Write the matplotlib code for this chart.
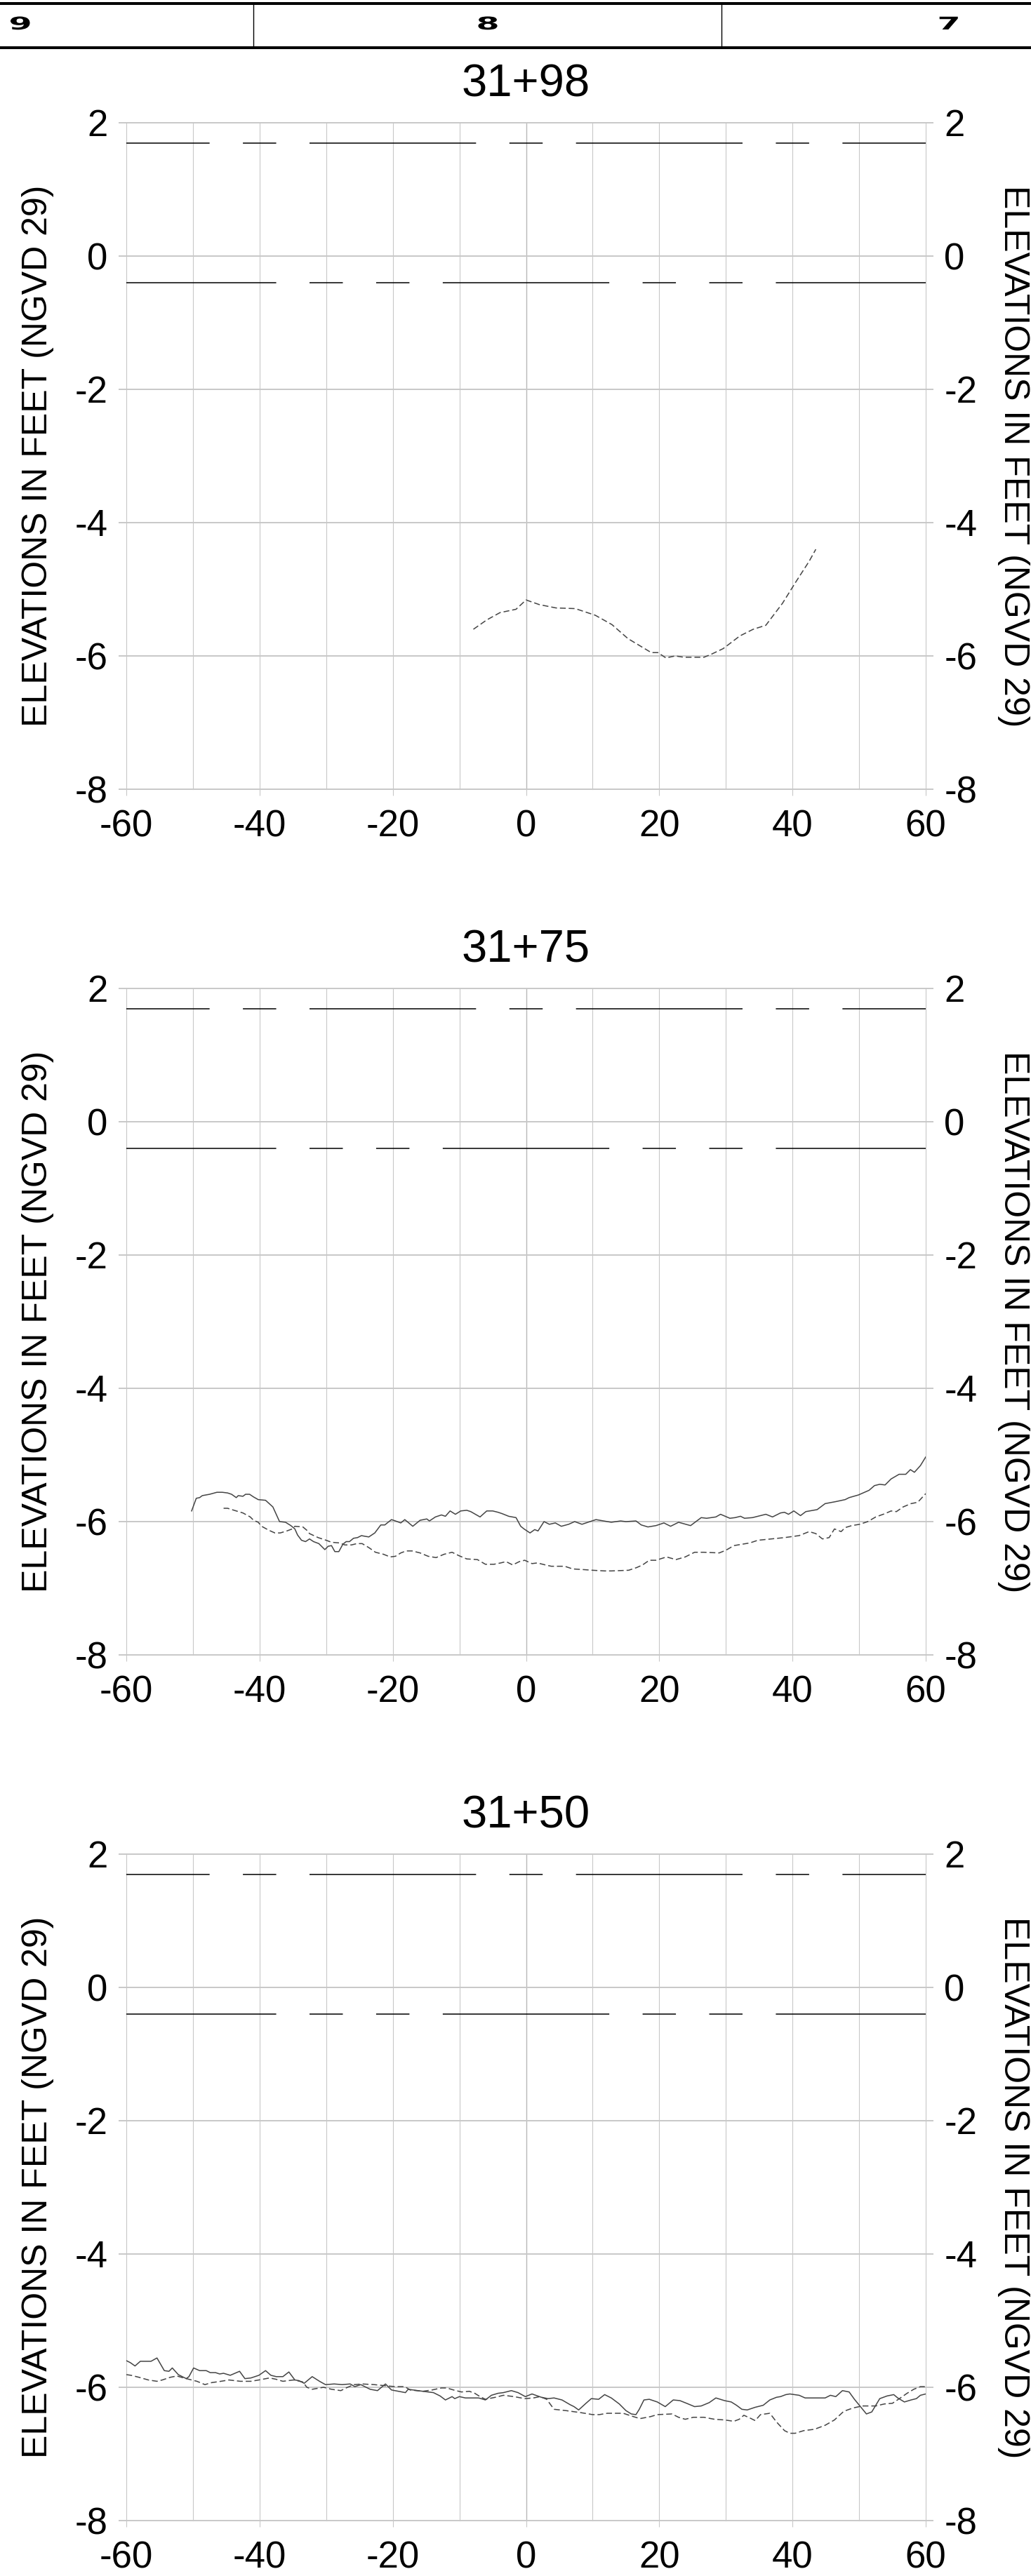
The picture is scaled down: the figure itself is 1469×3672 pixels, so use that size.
import numpy as np
import matplotlib
matplotlib.use('Agg')
import matplotlib.pyplot as plt
from matplotlib.lines import Line2D
from matplotlib.patheffects import AbstractPathEffect
from matplotlib.transforms import Affine2D

plt.rcParams['font.family'] = ['Liberation Sans', 'DejaVu Sans']
plt.rcParams['axes.unicode_minus'] = False
plt.rcParams['lines.scale_dashes'] = False

# ---- data -------------------------------------------------------------
header_labels = ['9', '8', '7']
stations = ['31+98', '31+75', '31+50']
ylabel = 'ELEVATIONS IN FEET (NGVD 29)'
x_range = [-60, 60]
y_range = [-8, 2]
x_ticks = [-60, -40, -20, 0, 20, 40, 60]
y_ticks = [-8, -6, -4, -2, 0, 2]
ref_levels = [1.7, -0.4]

# 31+98 (only the dashed survey)
p1_dash_x = [-7.9, -5.9, -3.9, -1.5, 0.0, 2.0, 4.5, 7.4, 10.4, 12.9,
             15.3, 18.8, 19.8, 21.0, 22.4, 23.7, 26.7, 27.7, 29.6, 32.1,
             34.1, 36.0, 38.5, 40.5, 42.5, 43.5]
p1_dash_y = [-5.60, -5.46, -5.35, -5.30, -5.16, -5.23, -5.28, -5.29, -5.39, -5.53,
             -5.74, -5.95, -5.95, -6.03, -6.00, -6.02, -6.02, -5.98, -5.89, -5.70,
             -5.60, -5.54, -5.21, -4.89, -4.58, -4.40]

# 31+75
p2_solid_x = [-50.2, -49.5, -49.0, -48.6, -47.5, -46.4, -45.6, -44.8, -44.2, -43.5,
              -43.2, -42.5, -42.1, -41.5, -40.9, -40.2, -39.1, -38.0, -37.0, -36.1,
              -35.3, -34.7, -34.3, -33.7, -33.1, -32.5, -31.9, -31.1, -30.2, -29.7,
              -29.2, -28.7, -28.1, -27.5, -27.0, -26.5, -25.9, -25.3, -24.7, -24.2,
              -23.6, -22.7, -21.8, -21.2, -20.2, -19.6, -18.8, -18.2, -17.0, -15.9,
              -14.9, -14.5, -13.6, -12.7, -12.1, -11.4, -10.6, -9.8, -8.9, -8.3,
              -6.9, -5.9, -5.0, -4.2, -3.6, -2.6, -1.5, -0.8, -0.3, 0.6,
              1.3, 1.8, 2.7, 3.5, 4.4, 5.3, 6.4, 7.3, 8.4, 10.5,
              12.8, 14.2, 15.0, 16.5, 17.3, 18.3, 19.5, 20.7, 21.7, 22.9,
              24.7, 26.3, 27.1, 28.5, 29.2, 30.6, 31.4, 32.2, 32.8, 34.0,
              36.0, 37.0, 38.2, 38.8, 39.4, 40.2, 41.2, 42.0, 43.7, 44.9,
              46.5, 47.9, 48.5, 49.9, 51.5, 52.3, 53.1, 53.9, 54.8, 56.0,
              57.0, 57.7, 58.3, 59.2, 60.0]
p2_solid_y = [-5.84, -5.65, -5.64, -5.61, -5.59, -5.56, -5.56, -5.57, -5.59, -5.64,
              -5.61, -5.62, -5.59, -5.59, -5.63, -5.67, -5.68, -5.78, -6.00, -6.01,
              -6.06, -6.11, -6.20, -6.28, -6.30, -6.26, -6.30, -6.33, -6.42, -6.37,
              -6.36, -6.45, -6.45, -6.34, -6.30, -6.30, -6.25, -6.24, -6.21, -6.22,
              -6.23, -6.17, -6.05, -6.05, -5.97, -5.99, -6.02, -5.97, -6.07, -5.98,
              -5.96, -5.99, -5.93, -5.90, -5.92, -5.84, -5.89, -5.84, -5.83, -5.85,
              -5.93, -5.84, -5.84, -5.86, -5.88, -5.92, -5.94, -6.07, -6.11, -6.17,
              -6.12, -6.14, -6.00, -6.04, -6.02, -6.07, -6.04, -6.00, -6.04, -5.97,
              -6.01, -5.99, -6.00, -5.99, -6.05, -6.08, -6.06, -6.02, -6.07, -6.01,
              -6.06, -5.94, -5.95, -5.93, -5.89, -5.95, -5.94, -5.92, -5.95, -5.94,
              -5.89, -5.93, -5.87, -5.86, -5.89, -5.84, -5.91, -5.85, -5.82, -5.73,
              -5.70, -5.67, -5.64, -5.60, -5.53, -5.46, -5.44, -5.45, -5.36, -5.29,
              -5.29, -5.22, -5.26, -5.16, -5.03]
p2_dash_x = [-45.4, -44.8, -43.5, -42.5, -41.4, -40.9, -40.2, -39.7, -38.6, -37.7,
             -36.9, -35.9, -35.1, -34.7, -33.5, -32.9, -32.5, -31.2, -30.0, -29.2,
             -28.0, -27.2, -26.2, -25.4, -24.6, -23.6, -22.6, -21.4, -20.4, -19.6,
             -18.8, -18.0, -17.1, -15.9, -14.7, -13.5, -12.3, -11.1, -10.1, -8.9,
             -7.3, -6.1, -4.8, -3.8, -3.0, -2.0, -1.0, -0.2, 0.9, 1.7,
             2.9, 3.8, 5.8, 7.0, 8.6, 10.0, 11.8, 12.8, 15.4, 16.6,
             17.5, 18.5, 19.5, 21.1, 22.5, 23.9, 25.3, 26.7, 29.0, 30.0,
             31.2, 33.6, 34.8, 36.8, 38.8, 41.0, 42.5, 43.5, 44.5, 45.5,
             46.3, 47.3, 47.9, 48.9, 50.1, 51.3, 52.5, 53.9, 54.8, 55.6,
             56.6, 57.8, 58.8, 60.0]
p2_dash_y = [-5.80, -5.80, -5.84, -5.87, -5.93, -5.98, -6.01, -6.07, -6.13, -6.17,
             -6.17, -6.14, -6.11, -6.07, -6.08, -6.13, -6.18, -6.24, -6.28, -6.31,
             -6.32, -6.35, -6.35, -6.33, -6.33, -6.39, -6.46, -6.49, -6.53, -6.52,
             -6.47, -6.44, -6.44, -6.47, -6.52, -6.54, -6.49, -6.46, -6.51, -6.56,
             -6.57, -6.64, -6.64, -6.62, -6.60, -6.65, -6.60, -6.58, -6.63, -6.62,
             -6.65, -6.67, -6.67, -6.71, -6.72, -6.73, -6.74, -6.74, -6.73, -6.69,
             -6.65, -6.58, -6.58, -6.53, -6.57, -6.53, -6.46, -6.46, -6.47, -6.43,
             -6.36, -6.32, -6.28, -6.26, -6.24, -6.21, -6.15, -6.18, -6.26, -6.24,
             -6.11, -6.15, -6.09, -6.06, -6.04, -6.00, -5.93, -5.88, -5.84, -5.85,
             -5.78, -5.73, -5.71, -5.58]

# 31+50
p3_solid_x = [-60.0, -59.4, -58.7, -57.9, -56.3, -55.4, -54.3, -53.6, -53.1, -52.2,
              -51.0, -50.6, -49.9, -49.0, -48.0, -47.4, -46.6, -46.0, -45.4, -44.4,
              -43.0, -42.2, -41.3, -40.1, -39.1, -38.3, -37.5, -36.5, -35.6, -34.7,
              -34.1, -33.3, -32.1, -31.0, -30.1, -28.8, -27.6, -26.4, -25.7, -24.8,
              -23.4, -22.3, -21.1, -20.2, -18.1, -17.7, -15.5, -13.9, -12.9, -12.1,
              -11.1, -10.7, -10.0, -9.1, -7.1, -6.1, -5.2, -4.2, -3.4, -2.2,
              -1.2, -0.1, 0.9, 2.3, 3.3, 4.2, 5.4, 6.6, 7.2, 7.9,
              9.0, 9.8, 10.9, 11.8, 12.8, 14.0, 15.0, 15.8, 16.5, 17.0,
              17.7, 18.5, 19.7, 20.9, 22.1, 23.1, 24.1, 25.3, 26.3, 27.5,
              28.5, 29.8, 30.8, 31.6, 32.4, 33.2, 34.4, 35.6, 36.6, 37.6,
              38.2, 39.0, 39.6, 41.0, 41.9, 43.3, 44.9, 45.7, 46.5, 47.5,
              48.5, 49.3, 51.1, 51.9, 53.1, 54.2, 55.2, 55.8, 56.8, 57.8,
              58.6, 59.2, 60.0]
p3_solid_y = [-5.60, -5.63, -5.68, -5.61, -5.61, -5.56, -5.75, -5.76, -5.71, -5.81,
              -5.87, -5.84, -5.71, -5.75, -5.75, -5.78, -5.78, -5.80, -5.79, -5.82,
              -5.76, -5.87, -5.86, -5.82, -5.75, -5.82, -5.84, -5.84, -5.77, -5.89,
              -5.90, -5.94, -5.84, -5.91, -5.96, -5.95, -5.96, -5.95, -5.99, -5.96,
              -6.03, -6.05, -5.95, -6.04, -6.08, -6.03, -6.06, -6.08, -6.13, -6.19,
              -6.14, -6.17, -6.14, -6.16, -6.16, -6.19, -6.12, -6.09, -6.08, -6.05,
              -6.08, -6.14, -6.10, -6.15, -6.17, -6.16, -6.19, -6.26, -6.29, -6.34,
              -6.24, -6.17, -6.18, -6.11, -6.16, -6.25, -6.35, -6.40, -6.41, -6.33,
              -6.19, -6.18, -6.22, -6.29, -6.19, -6.20, -6.24, -6.29, -6.28, -6.23,
              -6.16, -6.20, -6.22, -6.27, -6.33, -6.34, -6.30, -6.27, -6.19, -6.15,
              -6.14, -6.11, -6.10, -6.12, -6.16, -6.16, -6.16, -6.12, -6.14, -6.05,
              -6.07, -6.18, -6.40, -6.37, -6.17, -6.13, -6.11, -6.16, -6.22, -6.19,
              -6.17, -6.12, -6.10]
p3_dash_x = [-60.0, -59.3, -58.1, -56.7, -55.4, -54.6, -53.4, -52.4, -51.4, -50.2,
             -49.4, -48.2, -47.2, -45.8, -44.6, -42.9, -41.3, -40.1, -38.5, -37.5,
             -36.5, -34.9, -33.5, -32.9, -32.1, -30.4, -29.2, -27.8, -26.8, -25.8,
             -24.6, -22.8, -20.8, -19.6, -18.2, -17.4, -15.5, -14.1, -12.7, -11.9,
             -10.9, -9.7, -8.5, -7.7, -6.9, -6.1, -4.6, -3.4, -1.8, -0.2,
             1.1, 2.1, 3.1, 4.2, 6.0, 8.2, 10.0, 11.0, 12.2, 14.6,
             15.8, 17.1, 18.7, 19.7, 21.9, 22.9, 23.9, 25.1, 26.7, 28.3,
             29.8, 31.2, 32.0, 32.7, 33.6, 34.4, 35.2, 36.6, 37.6, 38.8,
             39.6, 40.4, 41.7, 43.3, 44.9, 46.3, 47.7, 49.1, 50.5, 52.5,
             53.8, 55.0, 56.2, 57.2, 58.2, 59.2, 60.0]
p3_dash_y = [-5.81, -5.82, -5.85, -5.89, -5.91, -5.89, -5.85, -5.83, -5.86, -5.89,
             -5.91, -5.96, -5.93, -5.91, -5.89, -5.91, -5.91, -5.89, -5.86, -5.88,
             -5.91, -5.89, -5.92, -6.00, -6.03, -6.00, -6.03, -6.05, -6.00, -5.96,
             -5.95, -5.96, -5.98, -5.99, -5.99, -6.04, -6.06, -6.04, -6.01, -6.01,
             -6.04, -6.07, -6.06, -6.09, -6.14, -6.18, -6.15, -6.12, -6.14, -6.17,
             -6.16, -6.14, -6.18, -6.33, -6.35, -6.38, -6.41, -6.41, -6.39, -6.39,
             -6.43, -6.47, -6.44, -6.41, -6.40, -6.45, -6.48, -6.45, -6.45, -6.48,
             -6.49, -6.51, -6.48, -6.42, -6.46, -6.50, -6.41, -6.39, -6.52, -6.65,
             -6.69, -6.69, -6.65, -6.63, -6.57, -6.49, -6.36, -6.31, -6.28, -6.28,
             -6.25, -6.24, -6.16, -6.09, -6.03, -5.99, -5.99]

panels = [
    ([], [], p1_dash_x, p1_dash_y),
    (p2_solid_x, p2_solid_y, p2_dash_x, p2_dash_y),
    (p3_solid_x, p3_solid_y, p3_dash_x, p3_dash_y),
]

# ---- layout (pixels) ----------------------------------------------------
W, H, DPI = 1469, 3672, 100
AX_L, AX_W, AX_H = 180, 1139, 950
panel_tops = [175, 1409, 2643]
GRID = '#c8c8c8'
LINE = '#444444'


class Stretch(AbstractPathEffect):
    """widen a text horizontally around x = cx (pixels)"""
    def __init__(self, sx, cx):
        super().__init__()
        self.sx, self.cx = sx, cx

    def draw_path(self, renderer, gc, tpath, affine, rgbFace=None):
        st = Affine2D().translate(-self.cx, 0).scale(self.sx, 1).translate(self.cx, 0)
        renderer.draw_path(gc, tpath, affine + st, rgbFace)


fig = plt.figure(figsize=(W / DPI, H / DPI), dpi=DPI)

# header strip
for yy in [5, 68]:
    fig.add_artist(Line2D([0, 1], [1 - yy / H] * 2, transform=fig.transFigure,
                          color='black', lw=2.9))
for xx in [361, 1028]:
    fig.add_artist(Line2D([xx / W] * 2, [1 - 5 / H, 1 - 68 / H],
                          transform=fig.transFigure, color='black', lw=1.0))
for lab, xx in zip(header_labels, [29, 695, 1352]):
    fig.text(xx / W, 1 - 42 / H, lab, ha='center', va='baseline', fontsize=18,
             fontweight='bold', family='DejaVu Sans',
             path_effects=[Stretch(1.9, xx)])

unit_pt = (AX_W / DPI * 72) / (x_range[1] - x_range[0])   # points per foot
ref_styles = [
    (12.5 * unit_pt, [25 * unit_pt, 5 * unit_pt, 5 * unit_pt, 5 * unit_pt]),
    (2.5 * unit_pt, [25 * unit_pt, 5 * unit_pt, 5 * unit_pt, 5 * unit_pt,
                     5 * unit_pt, 5 * unit_pt]),
]

for top, name, (sx, sy, dx, dy) in zip(panel_tops, stations, panels):
    ax = fig.add_axes([AX_L / W, 1 - (top + AX_H) / H, AX_W / W, AX_H / H])
    ax.set_xlim(x_range)
    ax.set_ylim(y_range)
    for s in ax.spines.values():
        s.set_visible(False)

    # grid
    for xv in np.arange(x_range[0], x_range[1] + 1, 10):
        ax.axvline(xv, color='#b8b8b8' if xv == 0 else GRID,
                   lw=1.0 if xv == 0 else 0.8, zorder=1, clip_on=False)
    for yv in y_ticks:
        ax.axhline(yv, color=GRID, lw=1.4, zorder=1, clip_on=False)

    ax.set_xticks(x_ticks)
    ax.set_yticks(y_ticks)
    ax.tick_params(axis='x', direction='out', length=6.5, width=0.8, color=GRID,
                   labelsize=38, pad=14)
    ax.tick_params(axis='y', direction='out', length=8, width=1.4, color=GRID,
                   labelsize=38, pad=11, left=True, right=True,
                   labelleft=True, labelright=True)

    # reference levels
    for lvl, st in zip(ref_levels, ref_styles):
        ax.axhline(lvl, color='black', lw=1.1, linestyle=st, zorder=3)

    # surveys
    if sx:
        ax.plot(sx, sy, color=LINE, lw=1.1, zorder=4)
    ax.plot(dx, dy, color=LINE, lw=1.1, linestyle=(0, (6, 3)), zorder=4)

    ax.text(0.5, 1 + 38 / AX_H, name, transform=ax.transAxes, ha='center',
            va='baseline', fontsize=47)

    yc = 1 - (top + AX_H / 2) / H
    fig.text(54 / W, yc, ylabel, rotation=90, ha='center', va='center', fontsize=36)
    fig.text(1444 / W, yc, ylabel, rotation=270, ha='center', va='center', fontsize=36)

fig.savefig('out.png', dpi=DPI)
